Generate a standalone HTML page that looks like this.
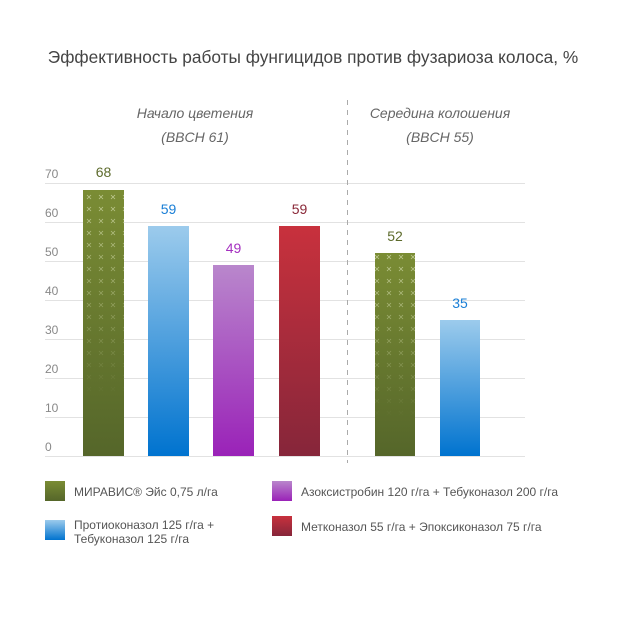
<!DOCTYPE html>
<html><head><meta charset="utf-8"><style>
body{margin:0;background:#fff}
</style></head><body>
<svg width="630" height="616" xmlns="http://www.w3.org/2000/svg" font-family="Liberation Sans, sans-serif">
<defs>
<linearGradient id="g" x1="0" y1="0" x2="0" y2="1"><stop offset="0" stop-color="#7a8c34"/><stop offset="1" stop-color="#55662a"/></linearGradient>
<linearGradient id="b" x1="0" y1="0" x2="0" y2="1"><stop offset="0" stop-color="#9ccbec"/><stop offset="1" stop-color="#0073cf"/></linearGradient>
<linearGradient id="p" x1="0" y1="0" x2="0" y2="1"><stop offset="0" stop-color="#b987cc"/><stop offset="1" stop-color="#9a22b8"/></linearGradient>
<linearGradient id="r" x1="0" y1="0" x2="0" y2="1"><stop offset="0" stop-color="#c8313d"/><stop offset="1" stop-color="#86263a"/></linearGradient>
<pattern id="x" width="12" height="12" patternUnits="userSpaceOnUse">
<path d="M3 3l4 4M7 3l-4 4" stroke="#d4dcae" stroke-width="0.8" opacity="0.8"/>
</pattern>
<linearGradient id="f1" gradientUnits="userSpaceOnUse" x1="0" y1="190" x2="0" y2="400"><stop offset="0" stop-color="#fff"/><stop offset="1" stop-color="#000"/></linearGradient>
<linearGradient id="f2" gradientUnits="userSpaceOnUse" x1="0" y1="253" x2="0" y2="420"><stop offset="0" stop-color="#fff"/><stop offset="1" stop-color="#000"/></linearGradient>
<mask id="m1"><rect x="0" y="0" width="630" height="616" fill="url(#f1)"/></mask>
<mask id="m2"><rect x="0" y="0" width="630" height="616" fill="url(#f2)"/></mask>
</defs>
<text x="313" y="63" text-anchor="middle" font-size="17.3" fill="#444">Эффективность работы фунгицидов против фузариоза колоса, %</text>
<g font-size="14" font-style="italic" fill="#666" text-anchor="middle">
<text x="195" y="118">Начало цветения</text><text x="195" y="142">(BBCH 61)</text>
<text x="440" y="118">Середина колошения</text><text x="440" y="142">(BBCH 55)</text>
</g>
<g stroke="#e2e2e2" stroke-width="1">
<line x1="45" x2="525" y1="183.5" y2="183.5"/><line x1="45" x2="525" y1="222.5" y2="222.5"/>
<line x1="45" x2="525" y1="261.5" y2="261.5"/><line x1="45" x2="525" y1="300.5" y2="300.5"/>
<line x1="45" x2="525" y1="339.5" y2="339.5"/><line x1="45" x2="525" y1="378.5" y2="378.5"/>
<line x1="45" x2="525" y1="417.5" y2="417.5"/><line x1="45" x2="525" y1="456.5" y2="456.5"/>
</g>
<g font-size="12" fill="#888">
<text x="45" y="178">70</text><text x="45" y="217">60</text><text x="45" y="256">50</text><text x="45" y="295">40</text>
<text x="45" y="334">30</text><text x="45" y="373">20</text><text x="45" y="412">10</text><text x="45" y="451">0</text>
</g>
<line x1="347.5" x2="347.5" y1="100" y2="463" stroke="#aaa" stroke-dasharray="5,5"/>
<rect x="83" y="190" width="41" height="266" fill="url(#g)"/>
<rect x="83" y="190" width="41" height="266" fill="url(#x)" mask="url(#m1)"/>
<rect x="148" y="226" width="41" height="230" fill="url(#b)"/>
<rect x="213" y="265" width="41" height="191" fill="url(#p)"/>
<rect x="279" y="226" width="41" height="230" fill="url(#r)"/>
<rect x="375" y="253" width="40" height="203" fill="url(#g)"/>
<rect x="375" y="253" width="40" height="203" fill="url(#x)" mask="url(#m2)"/>
<rect x="440" y="320" width="40" height="136" fill="url(#b)"/>
<g font-size="14" text-anchor="middle">
<text x="103.5" y="177" fill="#5d6b2c">68</text>
<text x="168.5" y="214" fill="#1a7fd6">59</text>
<text x="233.5" y="253" fill="#a530c0">49</text>
<text x="299.5" y="214" fill="#8a2838">59</text>
<text x="395" y="241" fill="#5d6b2c">52</text>
<text x="460" y="308" fill="#1a7fd6">35</text>
</g>
<rect x="45" y="481" width="20" height="20" fill="url(#g)"/>
<rect x="45" y="520" width="20" height="20" fill="url(#b)"/>
<rect x="272" y="481" width="20" height="20" fill="url(#p)"/>
<rect x="272" y="516" width="20" height="20" fill="url(#r)"/>
<g font-size="12" fill="#555">
<text x="74" y="496">МИРАВИС® Эйс 0,75 л/га</text>
<text x="74" y="529">Протиоконазол 125 г/га +</text>
<text x="74" y="543">Тебуконазол 125 г/га</text>
<text x="301" y="496">Азоксистробин 120 г/га + Тебуконазол 200 г/га</text>
<text x="301" y="531">Метконазол 55 г/га + Эпоксиконазол 75 г/га</text>
</g>
</svg>
</body></html>
